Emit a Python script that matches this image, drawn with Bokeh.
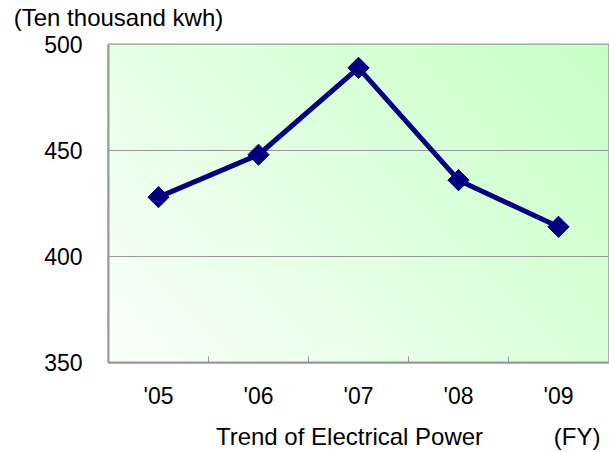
import numpy as np
from bokeh.plotting import figure
from bokeh.models import FixedTicker, LinearAxis, Range1d
from bokeh.embed import file_html
from bokeh.resources import INLINE

categories = ["'05", "'06", "'07", "'08", "'09"]
power = [428, 448, 489, 436, 414]
y_ticks = [350, 400, 450, 500]
y_title = "(Ten thousand kwh)"
x_title = "Trend of Electrical Power"
unit_label = "(FY)"

FONT = "Liberation Sans"
FS = "23px"
GRAY = "#999999"
NAVY = "#000080"

x = list(range(1, len(categories) + 1))
x0, x1 = 0.5, len(categories) + 0.5
y0, y1 = y_ticks[0], y_ticks[-1]

p = figure(width=609, height=452, output_backend="svg", toolbar_location=None,
           title=None, x_range=Range1d(x0, x1), y_range=Range1d(y0, y1),
           min_border_left=108, min_border_right=1, min_border_top=44,
           min_border_bottom=90)

p.background_fill_color = "white"
p.border_fill_color = "white"
p.outline_line_color = GRAY
p.outline_line_width = 2

# diagonal gradient background (bottom-left white -> top-right light green)
n = 200
fw, fh = 500.0, 318.0
xx, yy = np.meshgrid(np.linspace(0, 1, n), np.linspace(0, 1, n))
t = (xx * fw + yy * fh) / (fw + fh)
c0 = np.array([250, 255, 250])
c1 = np.array([198, 255, 198])
img = np.empty((n, n), dtype=np.uint32)
view = img.view(dtype=np.uint8).reshape((n, n, 4))
for k in range(3):
    view[:, :, k] = (c0[k] + (c1[k] - c0[k]) * t).astype(np.uint8)
view[:, :, 3] = 255
p.image_rgba(image=[img], x=x0, y=y0, dw=x1 - x0, dh=y1 - y0, level="image")

p.line(x, power, line_color=NAVY, line_width=5)
p.scatter(x, power, marker="square", size=15, angle=np.pi / 4,
          fill_color=NAVY, line_color=NAVY)

# grid
p.xgrid.grid_line_color = None
p.ygrid.grid_line_color = GRAY
p.ygrid.grid_line_width = 1

# x axis
xa = p.xaxis[0]
xa.ticker = FixedTicker(ticks=x, minor_ticks=[i + 0.5 for i in x[:-1]])
xa.major_label_overrides = {i: c for i, c in zip(x, categories)}
xa.major_tick_in = 0
xa.major_tick_out = 0
xa.minor_tick_in = 6
xa.minor_tick_out = 0
xa.minor_tick_line_color = GRAY
xa.minor_tick_line_width = 1
xa.axis_line_color = GRAY
xa.axis_line_width = 2
xa.major_label_standoff = 20
xa.major_label_text_font = FONT
xa.major_label_text_font_size = FS
xa.major_label_text_color = "black"

# secondary bottom axis carrying the axis title and the unit note
title_pos = x0 + 2.41
unit_pos = x1 - 0.313
xa2 = LinearAxis(ticker=FixedTicker(ticks=[title_pos, unit_pos]),
                 major_label_overrides={title_pos: x_title, unit_pos: unit_label})
xa2.axis_line_color = None
xa2.major_tick_line_color = None
xa2.minor_tick_line_color = None
xa2.major_label_standoff = 5
xa2.major_label_text_font = FONT
xa2.major_label_text_font_size = "24px"
xa2.major_label_text_color = "black"
p.add_layout(xa2, "below")

# top axis carrying the y-axis title
ytitle_pos = x0 + 0.10
ta = LinearAxis(ticker=FixedTicker(ticks=[ytitle_pos]),
                major_label_overrides={ytitle_pos: y_title})
ta.axis_line_color = None
ta.major_tick_line_color = None
ta.minor_tick_line_color = None
ta.major_label_standoff = 8
ta.major_label_text_font = FONT
ta.major_label_text_font_size = "24px"
ta.major_label_text_color = "black"
p.add_layout(ta, "above")

# y axis
ya = p.yaxis[0]
ya.ticker = FixedTicker(ticks=y_ticks)
p.ygrid.ticker = FixedTicker(ticks=y_ticks)
ya.major_tick_in = 0
ya.major_tick_out = 0
ya.minor_tick_line_color = None
ya.axis_line_color = GRAY
ya.axis_line_width = 2
ya.major_label_standoff = 26
ya.major_label_text_font = FONT
ya.major_label_text_font_size = FS
ya.major_label_text_color = "black"

open("out.html", "w").write(file_html(p, INLINE))
